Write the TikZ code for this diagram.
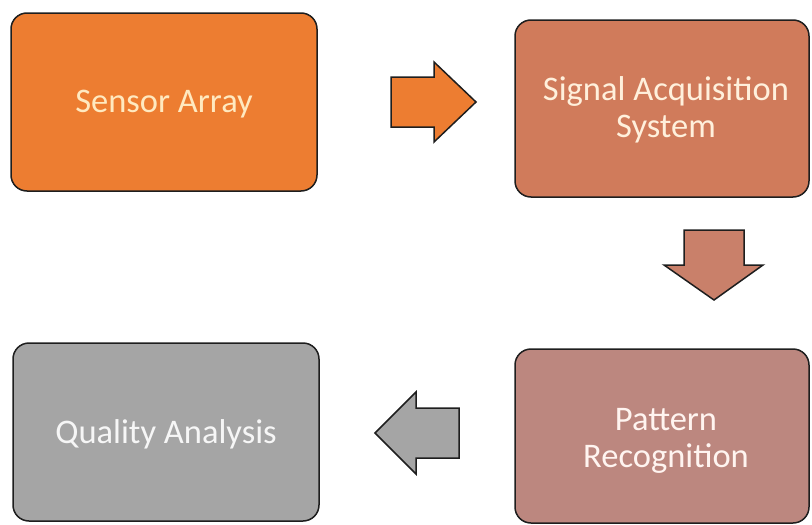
\documentclass[tikz,border=0pt]{standalone}
\usepackage{fontspec}
\setmainfont{Carlito}
\definecolor{cOne}{HTML}{ED7D31}
\definecolor{cTwo}{HTML}{D07B5B}
\definecolor{cThree}{HTML}{BC877F}
\definecolor{cFour}{HTML}{A5A5A5}
\definecolor{cDown}{HTML}{C9806A}
\definecolor{tOne}{HTML}{FFE9C0}
\definecolor{tTwo}{HTML}{FFF0DC}
\definecolor{tThree}{HTML}{FFF4F0}
\definecolor{tFour}{HTML}{F6F6F6}
\definecolor{edge}{HTML}{1E1E1E}
\begin{document}
\begin{tikzpicture}[x=1pt,y=-1pt,
  box/.style={draw=edge,line width=1.5pt,rounded corners=16pt,rectangle,inner sep=0pt},
  boxtext/.style={align=center,font=\fontsize{34.5}{36.5}\selectfont,inner sep=0pt},
  blockarrow/.style={draw=edge,line width=1.5pt,line join=miter}]
\useasboundingbox (0,0) rectangle (812,525);
\node[box,fill=cOne,minimum width=306pt,minimum height=178pt] (sa) at (164,102) {};
\node[box,fill=cTwo,minimum width=294pt,minimum height=177pt] (sig) at (662,108.5) {};
\node[box,fill=cThree,minimum width=294pt,minimum height=174pt] (pr) at (662,436) {};
\node[box,fill=cFour,minimum width=306pt,minimum height=178pt] (qa) at (166,432) {};
\node[boxtext,text=tOne] (saT) at ([yshift=-2.5pt]sa.center) {Sensor Array};
\node[boxtext,text=tTwo] (sigT) at ([xshift=4pt,yshift=-1.5pt]sig.center) {Signal Acquisition\\System};
\node[boxtext,text=tThree] (prT) at ([xshift=4pt,yshift=-5pt]pr.center) {Pattern\\Recognition};
\node[boxtext,text=tFour] (qaT) at ([yshift=-2.5pt]qa.center) {Quality Analysis};
% right arrow
\draw[blockarrow,fill=cOne] (391,77) -- (434,77) -- (434,62) -- (476,102) -- (434,142) -- (434,127) -- (391,127) -- cycle;
% down arrow
\draw[blockarrow,fill=cDown] (684,230) -- (744,230) -- (744,265) -- (763,265) -- (714,300) -- (664,265) -- (684,265) -- cycle;
% left arrow
\draw[blockarrow,fill=cFour] (459,408) -- (416,408) -- (416,392) -- (375,433) -- (416,474) -- (416,458) -- (459,458) -- cycle;
\end{tikzpicture}
\end{document}
